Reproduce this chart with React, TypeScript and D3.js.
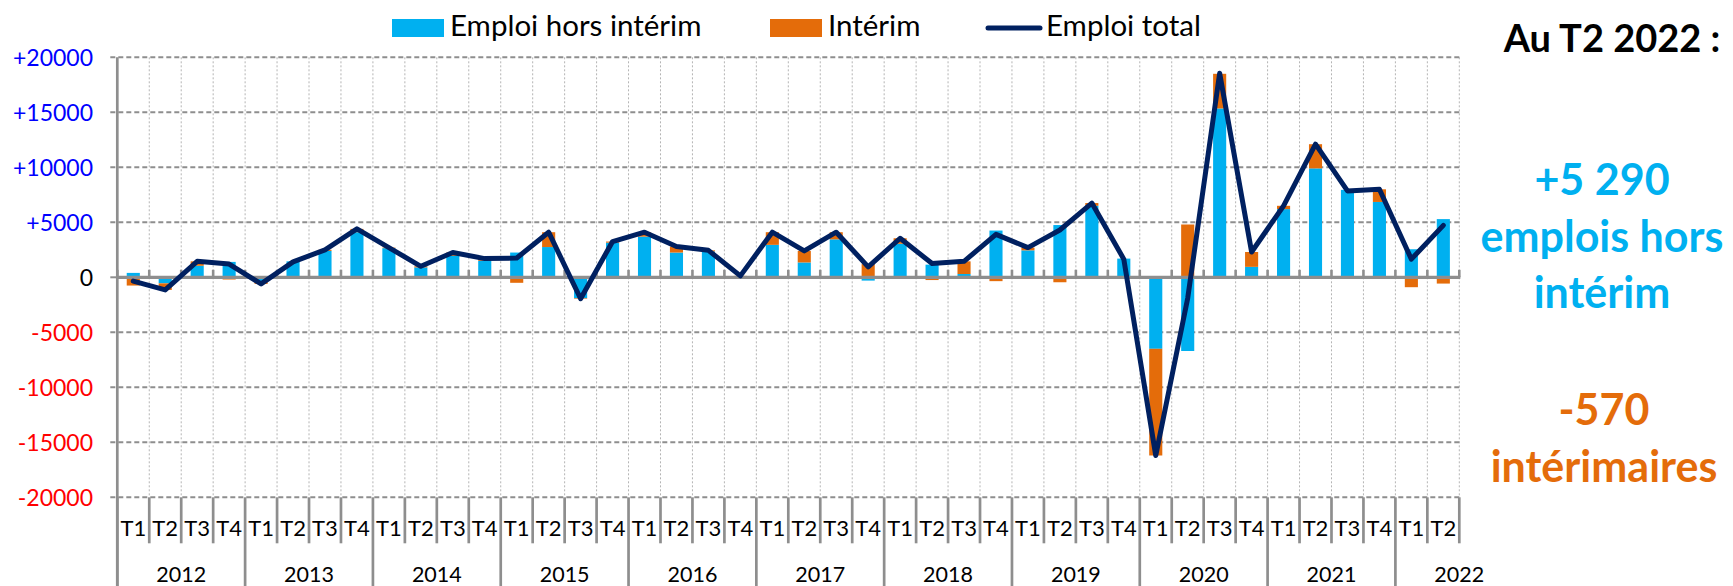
import React from "react";
import * as d3 from "d3";

const years = ["2012", "2013", "2014", "2015", "2016", "2017", "2018", "2019", "2020", "2021", "2022"];
const quarters = ["T1", "T2", "T3", "T4"];

// Emploi hors intérim (variation trimestrielle)
const horsInterim = [
  400, -550, 1050, 1400,
  -400, 1450, 2400, 4100,
  2650, 900, 1950, 1500,
  2250, 2750, -1900, 3150,
  3700, 2250, 2350, 50,
  2950, 1350, 3450, -300,
  3050, 1150, 300, 4250,
  2450, 4750, 6500, 1700,
  -6500, -6700, 15350, 950,
  6200, 9900, 7950, 6850,
  2550, 5290,
];

// Intérim
const interim = [
  -750, -600, 400, -200,
  -200, -50, 100, 300,
  50, 100, 300, 200,
  -500, 1350, -50, 100,
  400, 550, 100, 80,
  1150, 1050, 650, 1200,
  500, -250, 1150, -350,
  250, -450, 250, -50,
  -9700, 4800, 3150, 1350,
  300, 2200, -100, 1150,
  -900, -570,
];

// Emploi total
const emploiTotal = [
  -350, -1150, 1450, 1200,
  -600, 1400, 2500, 4400,
  2700, 1000, 2250, 1700,
  1750, 4100, -1950, 3250,
  4100, 2800, 2450, 130,
  4100, 2400, 4100, 950,
  3550, 1250, 1450, 3900,
  2700, 4300, 6750, 1650,
  -16200, -1900, 18550, 2300,
  6500, 12100, 7850, 8000,
  1650, 4720,
];

const yTicks = [20000, 15000, 10000, 5000, 0, -5000, -10000, -15000, -20000];

const legendLabels = ["Emploi hors intérim", "Intérim", "Emploi total"];
const noteTitle = "Au T2 2022 :";
const noteHors = ["+5 290", "emplois hors", "intérim"];
const noteInterim = ["-570", "intérimaires"];

const BLUE = "#00B0F0";
const ORANGE = "#E46C0A";
const NAVY = "#002060";
const GRID = "#8e8e8e";
const FONT = "Lato, 'Open Sans', sans-serif";

const categories = years
  .flatMap((yr) => quarters.map((q) => ({ year: yr, q })))
  .slice(0, horsInterim.length);

export default function App() {
  React.useEffect(() => {
    document.body.style.margin = "0";
  }, []);

  const W = 1733;
  const H = 586;
  const left = 117.3;
  const right = 1459.3;
  const top = 57.3;
  const bottom = 497.3;

  const n = categories.length;
  const x = d3.scaleBand<number>().domain(d3.range(n)).range([left, right]).padding(0);
  const bw = x.bandwidth();
  const barW = bw * 0.41;
  const y = d3.scaleLinear().domain([-20000, 20000]).range([bottom, top]);

  const rows = categories.map((_, i) => ({ hors: horsInterim[i], interim: interim[i] }));
  const series = d3
    .stack<any>()
    .keys(["hors", "interim"])
    .offset(d3.stackOffsetDiverging)(rows);
  const colors = [BLUE, ORANGE];

  const line = d3
    .line<number>()
    .x((_, i) => (x(i) as number) + bw / 2)
    .y((d) => y(d));

  const boundaries = d3.range(n + 1).map((i) => left + i * bw);
  const y0 = y(0);

  const fmt = (v: number) => (v > 0 ? "+" + v : String(v));
  const tickColor = (v: number) => (v > 0 ? "#0000FF" : v < 0 ? "#FF0000" : "#000000");

  const yearGroups = years.map((yr, gi) => {
    const start = gi * 4;
    return { yr, cx: left + (start + 2) * bw, start };
  });

  return (
    <svg
      width={W}
      height={H}
      viewBox={`0 0 ${W} ${H}`}
      style={{ position: "absolute", left: 0, top: 0, background: "#fff" }}
      fontFamily={FONT}
    >
      <rect x={0} y={0} width={W} height={H} fill="#fff" />
      {/* vertical dotted gridlines */}
      {boundaries.slice(1).map((bx, i) => (
        <line
          key={"vg" + i}
          x1={bx}
          x2={bx}
          y1={top}
          y2={bottom}
          stroke="#b4b4b4"
          strokeWidth={1}
          strokeDasharray="2,2"
        />
      ))}
      {/* horizontal dashed gridlines */}
      {yTicks
        .filter((v) => v !== 0)
        .map((v) => (
          <line
            key={"hg" + v}
            x1={left - 7}
            x2={right}
            y1={y(v)}
            y2={y(v)}
            stroke={GRID}
            strokeWidth={2}
            strokeDasharray="5,3"
          />
        ))}
      <line x1={left - 7} x2={left} y1={y0} y2={y0} stroke={GRID} strokeWidth={2} />

      {/* stacked bars */}
      {series.map((s, si) =>
        s.map((d, i) => {
          const y1 = y(d[1]);
          const y2 = y(d[0]);
          return (
            <rect
              key={`b${si}-${i}`}
              x={(x(i) as number) + (bw - barW) / 2}
              y={Math.min(y1, y2)}
              width={barW}
              height={Math.abs(y2 - y1)}
              fill={colors[si]}
            />
          );
        })
      )}

      {/* zero axis with ticks */}
      <line x1={left} x2={right + 1} y1={y0} y2={y0} stroke={GRID} strokeWidth={3.2} />
      {boundaries.map((bx, i) => (
        <line key={"zt" + i} x1={bx} x2={bx} y1={y0 - 7.5} y2={y0} stroke={GRID} strokeWidth={2.6} />
      ))}

      {/* y axis */}
      <line x1={left} x2={left} y1={top} y2={H} stroke={GRID} strokeWidth={2.7} />

      {/* category separators */}
      {boundaries.map((bx, i) => {
        const isYear = i % 4 === 0 && i < n;
        return (
          <line
            key={"cs" + i}
            x1={bx}
            x2={bx}
            y1={bottom}
            y2={isYear ? H : 543.3}
            stroke={GRID}
            strokeWidth={2.7}
          />
        );
      })}

      {/* total line */}
      <path
        d={line(emploiTotal) as string}
        fill="none"
        stroke={NAVY}
        strokeWidth={5}
        strokeLinejoin="round"
        strokeLinecap="round"
      />

      {/* y tick labels */}
      {yTicks.map((v) => (
        <text
          key={"yl" + v}
          x={93}
          y={y(v)}
          dy="0.36em"
          textAnchor="end"
          fontSize={23}
          fill={tickColor(v)}
        >
          {fmt(v)}
        </text>
      ))}

      {/* quarter labels */}
      {categories.map((c, i) => (
        <text
          key={"ql" + i}
          x={(x(i) as number) + bw / 2}
          y={536}
          textAnchor="middle"
          fontSize={22}
          fill="#000"
        >
          {c.q}
        </text>
      ))}

      {/* year labels */}
      {yearGroups.map((g) => (
        <text key={"yr" + g.yr} x={g.cx} y={582} textAnchor="middle" fontSize={21.5} fill="#000">
          {g.yr}
        </text>
      ))}

      {/* legend */}
      <rect x={392} y={19} width={52} height={18} fill={BLUE} />
      <text x={450} y={36} fontSize={29.5} fill="#000">
        {legendLabels[0]}
      </text>
      <rect x={770} y={19} width={52} height={18} fill={ORANGE} />
      <text x={828} y={36} fontSize={29.5} fill="#000">
        {legendLabels[1]}
      </text>
      <line x1={988} x2={1040} y1={28} y2={28} stroke={NAVY} strokeWidth={5} strokeLinecap="round" />
      <text x={1046} y={36} fontSize={29.5} fill="#000">
        {legendLabels[2]}
      </text>

      {/* annotation */}
      <text x={1612} y={52} textAnchor="middle" fontSize={38} fontWeight={700} fill="#000">
        {noteTitle}
      </text>
      {noteHors.map((t, i) => (
        <text
          key={"nh" + i}
          x={1602}
          y={195 + i * 56.5}
          textAnchor="middle"
          fontSize={43}
          fontWeight={700}
          fill={BLUE}
        >
          {t}
        </text>
      ))}
      {noteInterim.map((t, i) => (
        <text
          key={"ni" + i}
          x={1604}
          y={425 + i * 56.7}
          textAnchor="middle"
          fontSize={43}
          fontWeight={700}
          fill={ORANGE}
        >
          {t}
        </text>
      ))}
    </svg>
  );
}
